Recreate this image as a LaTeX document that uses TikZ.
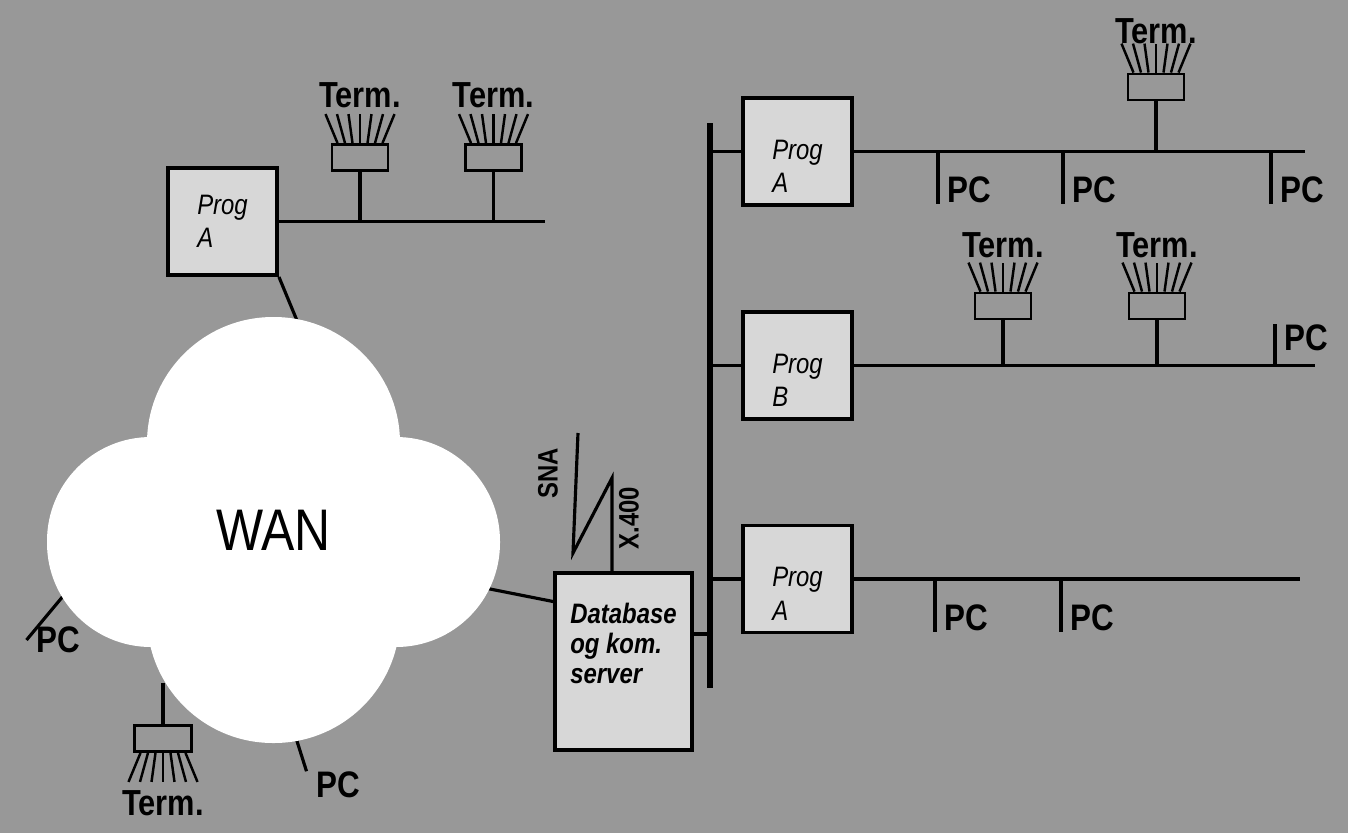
\documentclass[tikz,border=0pt]{standalone}
\usepackage{fontspec}
\setmainfont{Liberation Sans}[FakeStretch=0.85]
\usetikzlibrary{positioning}
\definecolor{bggray}{RGB}{152,152,152}
\definecolor{boxgray}{RGB}{215,215,215}

\begin{document}
\begin{tikzpicture}[
  progbox/.style={
    draw,
    rectangle,
    line width=1.1pt,
    fill=boxgray,
    minimum width=1.09cm,
    minimum height=1.07cm,
    inner sep=0pt
  },
  progtext/.style={
    align=left,
    inner sep=0pt,
    font=\fontsize{8}{9.5}\selectfont\itshape
  },
  dbbox/.style={
    draw,
    rectangle,
    line width=1.1pt,
    fill=boxgray,
    minimum width=1.37cm,
    minimum height=1.77cm,
    inner sep=0pt
  },
  dbtext/.style={
    align=left,
    inner sep=0pt,
    font=\fontsize{8}{8.6}\selectfont\bfseries\itshape
  },
  termbox/.style={
    draw,
    rectangle,
    line width=0.8pt,
    minimum width=0.56cm,
    minimum height=0.26cm,
    inner sep=0pt
  },
  termtext/.style={inner sep=0pt, font=\fontsize{10.3}{12}\selectfont\bfseries},
  pctext/.style={inner xsep=0.09cm, inner ysep=0pt, font=\fontsize{10.5}{12}\selectfont\bfseries},
  cloudpart/.style={fill=white, rectangle, inner sep=0pt},
  wire/.style={line width=0.9pt},
  fan/.style={line width=0.7pt}
]

% Background.
\fill[bggray] (0,0) rectangle (13.48,8.33);
\useasboundingbox (0,0) rectangle (13.48,8.33);

% Left site.
\node[progbox, label={[progtext]center:{Prog\\A}}] (progL) at (2.225,6.115) {};
\coordinate (busLend) at (5.45,6.115);
\node[termbox] (tL1) at (3.60,6.755) {};
\node[termbox] (tL2) at (4.935,6.755) {};
\node[termtext, above=0.35 of tL1] (tL1t) {Term.};
\node[termtext, above=0.35 of tL2] (tL2t) {Term.};

% Central site on the backbone.
\coordinate (vtop) at (7.10,7.10);
\coordinate (vbot) at (7.10,1.45);
\node[progbox, label={[progtext, yshift=-0.15cm]center:{Prog\\A}}] (progA1) at (7.975,6.815) {};
\node[progbox, label={[progtext, yshift=-0.15cm]center:{Prog\\B}}] (progB) at (7.975,4.675) {};
\node[progbox, label={[progtext, yshift=-0.15cm]center:{Prog\\A}}] (progA2) at (7.975,2.54) {};
\node[dbbox, label={[dbtext, yshift=0.18cm]center:{Database\\og kom.\\server}}] (db) at (6.235,1.715) {};
\coordinate (vdb) at (7.10,1.99);

\coordinate (busA1end) at (13.05,6.815);
\coordinate (busBend) at (13.15,4.675);
\coordinate (busA2end) at (13.00,2.54);

\node[termbox] (tR1) at (11.56,7.46) {};
\node[termtext, above=0.28 of tR1] (tR1t) {Term.};
\node[termbox] (tM1) at (10.03,5.27) {};
\node[termbox] (tM2) at (11.57,5.27) {};
\node[termtext, above=0.33 of tM1] (tM1t) {Term.};
\node[termtext, above=0.33 of tM2] (tM2t) {Term.};

\node[pctext, anchor=west] (pc1) at (9.38,6.43) {PC};
\node[pctext, anchor=west] (pc2) at (10.63,6.43) {PC};
\node[pctext, anchor=west] (pc3) at (12.71,6.43) {PC};
\node[pctext, anchor=west] (pc4) at (12.75,4.95) {PC};
\node[pctext, anchor=west] (pc5) at (9.35,2.15) {PC};
\node[pctext, anchor=west] (pc6) at (10.61,2.15) {PC};

% Devices round the WAN.
\node[termbox, minimum width=0.57cm] (tW) at (1.63,0.945) {};
\node[termtext, below=0.37 of tW] (tWt) {Term.};
\node[pctext] (pcW) at (0.58,1.93) {PC};
\node[pctext] (pcB) at (3.38,0.48) {PC};
\coordinate (wanTop) at (2.98,5.10);
\coordinate (wanRight) at (4.85,2.45);
\coordinate (wanLeft) at (0.64,2.38);
\coordinate (wanBot) at (2.96,0.95);
\coordinate (wanFoot) at (1.63,1.50);

% Links into the cloud (the cloud covers their ends).
\draw[wire] (progL.south east) -- (wanTop);
\draw[wire] (wanRight) -- ([yshift=0.6cm]db.west);
\draw[wire] (wanLeft) -- (pcW.west);
\draw[wire] (wanBot) -- (pcB.north west);
\draw[wire] (wanFoot) -- (tW);

% WAN cloud.
\node[cloudpart, minimum width=4.53cm, minimum height=2.10cm, rounded corners=1.04cm] (wanH) at (2.735,2.91) {};
\node[cloudpart, minimum width=2.53cm, minimum height=4.26cm, rounded corners=1.26cm,
  font=\fontsize{16.7}{20}\selectfont] (wanV) at (2.735,3.03) {WAN};

% Left bus.
\draw[wire] (progL) -- (busLend);
\draw[wire] (tL1) -- (tL1 |- progL.east);
\draw[wire] (tL2) -- (tL2 |- progL.east);

% Backbone.
\draw[line width=1.5pt] (vtop) -- (vbot);
\draw[wire] (progA1) -- (progA1 -| vtop);
\draw[wire] (progB) -- (progB -| vtop);
\draw[wire] (progA2) -- (progA2 -| vtop);
\draw[wire] (vdb) -- (vdb -| db.east);

% Right buses.
\draw[wire] (progA1) -- (busA1end);
\draw[wire] (progB) -- (busBend);
\draw[wire] (progA2) -- (busA2end);
\draw[wire] (tR1) -- (tR1 |- progA1.east);
\draw[wire] (tM1) -- (tM1 |- progB.east);
\draw[wire] (tM2) -- (tM2 |- progB.east);
\draw[wire] (pc1.south west) -- (pc1.west |- progA1.east);
\draw[wire] (pc2.south west) -- (pc2.west |- progA1.east);
\draw[wire] (pc3.south west) -- (pc3.west |- progA1.east);
\draw[wire] (pc4.north west) -- (pc4.west |- progB.east);
\draw[wire] (pc5.south west) -- (pc5.west |- progA2.east);
\draw[wire] (pc6.south west) -- (pc6.west |- progA2.east);

% Terminal fans.
\foreach \t in {tL1,tL2,tR1,tM1,tM2}{
  \foreach \i in {-3,...,3}
    \draw[fan] ([xshift=\i*0.075cm]\t.north) -- ++(\i*0.04cm,0.29cm);
}
\foreach \i in {-3,...,3}
  \draw[fan] ([xshift=\i*0.075cm]tW.south) -- ++(\i*0.04cm,-0.29cm);

% SNA / X.400 link.
\coordinate (boltTop) at (5.78,4.00);
\draw[wire] (boltTop) -- (5.73,2.80) -- (6.12,3.55) -- ([xshift=-0.115cm]db.north);
\node[font=\fontsize{8}{9}\selectfont\bfseries, rotate=90, inner sep=0pt] (sna) at (5.48,3.60) {SNA};
\node[font=\fontsize{8}{9}\selectfont\bfseries, rotate=90, inner sep=0pt] (x400) at (6.29,3.15) {X.400};

\end{tikzpicture}
\end{document}
